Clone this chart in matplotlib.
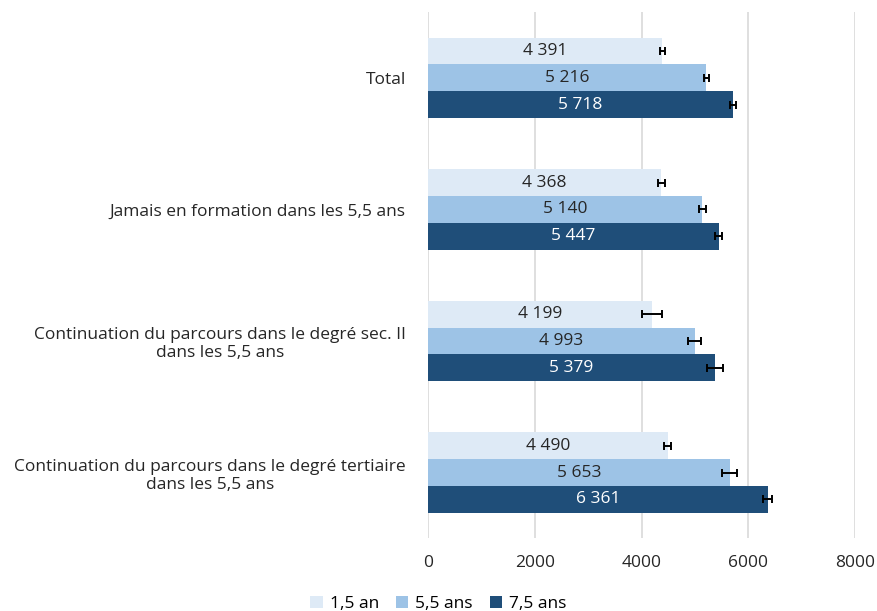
import matplotlib.pyplot as plt
import numpy as np

# Data
categories = [
    "Total",
    "Jamais en formation dans les 5,5 ans",
    "Continuation du parcours dans le degré sec. II\ndans les 5,5 ans",
    "Continuation du parcours dans le degré tertiaire\ndans les 5,5 ans",
]
series_names = ["1,5 an", "5,5 ans", "7,5 ans"]
values_15 = [4391, 4368, 4199, 4490]
values_55 = [5216, 5140, 4993, 5653]
values_75 = [5718, 5447, 5379, 6361]
err_15 = [45, 65, 185, 60]
err_55 = [50, 70, 115, 140]
err_75 = [55, 65, 145, 90]
xticks = [0, 2000, 4000, 6000, 8000]

colors = ["#DEEAF6", "#9DC3E6", "#1F4E79"]
text_colors = ["#262626", "#262626", "white"]

plt.rcParams['font.family'] = ['Open Sans', 'DejaVu Sans']

fig = plt.figure(figsize=(8.77, 6.11), dpi=100)
ax = fig.add_axes([0.488, 0.119, 0.487, 0.861])

y = np.arange(len(categories))
h = 0.205
offsets = [-h, 0, h]
for vals, errs, off, col, tcol, name in zip(
        [values_15, values_55, values_75], [err_15, err_55, err_75],
        offsets, colors, text_colors, series_names):
    ax.barh(y + off, vals, height=h, color=col, label=name, zorder=2)
    ax.errorbar(vals, y + off, xerr=errs, fmt='none', ecolor='black',
                elinewidth=1.4, capsize=3, capthick=1.4, zorder=3)
    for yy, v in zip(y + off, vals):
        lab = f"{v:,}".replace(",", " ")
        ax.text(v / 2, yy, lab, ha='center', va='center', color=tcol,
                fontsize=12.5, zorder=4)

ax.set_ylim(len(categories) - 0.5, -0.5)
ax.set_xlim(0, 8000)
ax.set_xticks(xticks)
ax.set_yticks(y)
ax.set_yticklabels(categories, fontsize=12.5, multialignment='center',
                   color='#262626')
ax.tick_params(axis='y', length=0, pad=16)
ax.tick_params(axis='x', length=0, pad=12, labelsize=12.5, colors='#262626')
ax.grid(axis='x', color='#D9D9D9', linewidth=1.2, zorder=0)
for s in ax.spines.values():
    s.set_visible(False)

handles, labels = ax.get_legend_handles_labels()
fig.legend(handles, labels, loc='lower center',
           bbox_to_anchor=(0.5, -0.028), ncol=3, frameon=False,
           fontsize=12.5, handlelength=0.7, handleheight=0.7,
           columnspacing=1.0, handletextpad=0.4)

fig.savefig("out.png", dpi=100)
